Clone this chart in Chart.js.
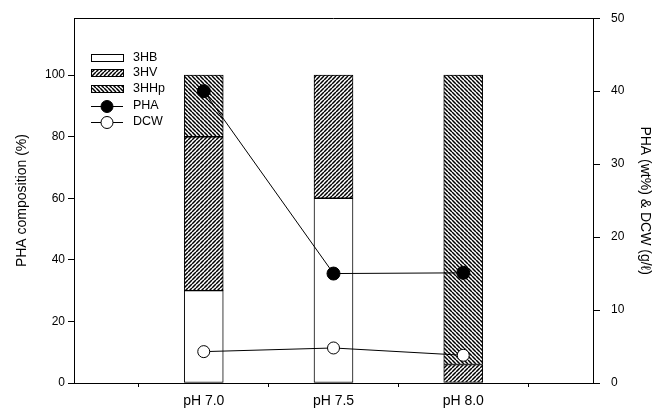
<!DOCTYPE html>
<html>
<head>
<meta charset="utf-8">
<script src="https://cdn.jsdelivr.net/npm/chart.js@4"></script>
<style>
html,body{margin:0;padding:0;background:#fff;}
canvas{display:block;}
</style>
</head>
<body>
<canvas id="c" width="663" height="415"></canvas>
<script>
// ---- data ----
const categories = ['pH 7.0', 'pH 7.5', 'pH 8.0'];
const phValues = [7.0, 7.5, 8.0];
const hb3 = [30, 60, 0];
const hv3 = [50, 40, 6];
const hhp3 = [20, 0, 94];
const pha = [40, 15, 15.1];
const dcw = [4.3, 4.8, 3.8];
const leftTicks = [0, 20, 40, 60, 80, 100];
const rightTicks = [0, 10, 20, 30, 40, 50];

const FONT = '"Liberation Sans", Arial, Helvetica, sans-serif';

function hatch(dir) {
  const s = 4;
  const c = document.createElement('canvas');
  c.width = s; c.height = s;
  const g = c.getContext('2d');
  g.fillStyle = '#fff';
  g.fillRect(0, 0, s, s);
  g.strokeStyle = '#000';
  g.lineWidth = 1.5;
  g.beginPath();
  if (dir === '/') {
    for (let k = -1; k <= 1; k++) {
      g.moveTo(k * s, s); g.lineTo(k * s + s, 0);
    }
  } else {
    for (let k = -1; k <= 1; k++) {
      g.moveTo(k * s, 0); g.lineTo(k * s + s, s);
    }
  }
  g.stroke();
  return document.getElementById('c').getContext('2d').createPattern(c, 'repeat');
}
const patHV = hatch('/');
const patHHp = hatch('\\');

const pts = arr => arr.map((v, i) => ({ x: phValues[i], y: v === 0 ? null : v }));

const barCommon = {
  type: 'bar', xAxisID: 'x', yAxisID: 'y', stack: 's',
  borderColor: '#000', borderWidth: 1, borderSkipped: false,
  barThickness: 39, order: 2
};

const legendPlugin = {
  id: 'insideLegend',
  afterDatasetsDraw(chart) {
    const ctx = chart.ctx;
    const x0 = 91, w = 32, tx = 133;
    const ys = [58, 73, 89, 106, 122];
    ctx.save();
    ctx.font = '12.5px ' + FONT;
    ctx.textBaseline = 'middle';
    ctx.fillStyle = '#000';
    chart.data.datasets.forEach((ds, i) => {
      const y = ys[i];
      ctx.strokeStyle = '#000';
      ctx.lineWidth = 1;
      if (ds.type === 'bar') {
        ctx.fillStyle = ds.backgroundColor;
        ctx.fillRect(x0, y - 4, w, 8);
        ctx.strokeRect(x0 + 0.5, y - 3.5, w, 7);
      } else {
        ctx.beginPath();
        ctx.moveTo(x0, y + 0.5); ctx.lineTo(x0 + w, y + 0.5);
        ctx.stroke();
        ctx.beginPath();
        ctx.arc(x0 + w / 2, y + 0.5, 6, 0, Math.PI * 2);
        ctx.fillStyle = ds.pointBackgroundColor;
        ctx.fill();
        ctx.stroke();
      }
      ctx.fillStyle = '#000';
      ctx.fillText(ds.label, tx, y);
    });
    ctx.restore();
  },
  afterDraw(chart) {
    const { ctx, chartArea } = chart;
    ctx.save();
    ctx.strokeStyle = '#000';
    ctx.lineWidth = 1;
    ctx.beginPath();
    ctx.moveTo(chartArea.left, Math.round(chartArea.top) + 0.5);
    ctx.lineTo(chartArea.right, Math.round(chartArea.top) + 0.5);
    ctx.stroke();
    ctx.restore();
  }
};

new Chart(document.getElementById('c'), {
  data: {
    datasets: [
      Object.assign({ label: '3HB', data: pts(hb3), backgroundColor: '#fff' }, barCommon),
      Object.assign({ label: '3HV', data: pts(hv3), backgroundColor: patHV }, barCommon),
      Object.assign({ label: '3HHp', data: pts(hhp3), backgroundColor: patHHp }, barCommon),
      { type: 'line', label: 'PHA', data: pts(pha), xAxisID: 'x', yAxisID: 'y1',
        borderColor: '#000', borderWidth: 1, pointRadius: 6.5, pointBackgroundColor: '#000',
        pointBorderColor: '#000', pointBorderWidth: 1, order: 0, fill: false },
      { type: 'line', label: 'DCW', data: pts(dcw), xAxisID: 'x', yAxisID: 'y1',
        borderColor: '#000', borderWidth: 1, pointRadius: 6, pointBackgroundColor: '#fff',
        pointBorderColor: '#000', pointBorderWidth: 1, order: 1, fill: false }
    ]
  },
  options: {
    responsive: false,
    animation: false,
    events: [],
    layout: { padding: { top: 14, left: 0, right: 0, bottom: 0 } },
    plugins: { legend: { display: false }, tooltip: { enabled: false } },
    scales: {
      x: {
        type: 'linear', min: 6.5, max: 8.5, stacked: true, offset: false,
        afterBuildTicks: s => { s.ticks = phValues.map(v => ({ value: v })); },
        afterFit: s => { s.height = 32; },
        ticks: {
          callback: v => categories[phValues.indexOf(v)],
          font: { family: FONT, size: 14 }, color: '#000', padding: 6, maxRotation: 0
        },
        grid: { drawOnChartArea: false, tickLength: 4, color: '#000' },
        border: { color: '#000', width: 1 }
      },
      y: {
        position: 'left', min: 0, max: 118.5, stacked: true,
        afterBuildTicks: s => { s.ticks = leftTicks.map(v => ({ value: v })); },
        afterFit: s => { s.width = 74; },
        ticks: { font: { family: FONT, size: 12 }, color: '#000', padding: 3 },
        grid: { drawOnChartArea: false, tickLength: 6, color: '#000' },
        border: { color: '#000', width: 1 },
        title: { display: true, text: 'PHA composition (%)', color: '#000',
          font: { family: FONT, size: 14 }, padding: { top: 14, bottom: 0 } }
      },
      y1: {
        position: 'right', min: 0, max: 50, stacked: false,
        afterBuildTicks: s => { s.ticks = rightTicks.map(v => ({ value: v })); },
        afterFit: s => { s.width = 70; },
        ticks: { font: { family: FONT, size: 12 }, color: '#000', padding: 11 },
        grid: { drawOnChartArea: false, tickLength: 7, color: '#000' },
        border: { color: '#000', width: 1 },
        title: { display: true, text: 'PHA (wt%) & DCW (g/ℓ)', color: '#000',
          font: { family: FONT, size: 14 }, padding: { top: 10, bottom: 0 } }
      }
    }
  },
  plugins: [legendPlugin]
});
</script>
</body>
</html>
